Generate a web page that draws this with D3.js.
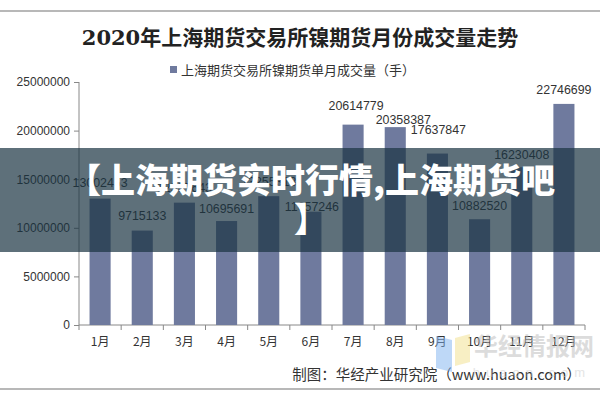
<!DOCTYPE html>
<html>
<head>
<meta charset="utf-8">
<style>
  body{margin:0;background:#fff}
  #chart text{font-family:"Liberation Sans","Noto Sans CJK SC",sans-serif;fill:#333}
</style>
</head>
<body>
<div id="chart"></div>
<script src="https://d3js.org/d3.v7.min.js"></script>
<script>
var months = ['1月','2月','3月','4月','5月','6月','7月','8月','9月','10月','11月','12月'];
var volumes = [13002453, 9715133, 12587643, 10695691, 13255318, 11657246,
               20614779, 20358387, 17637847, 10882520, 16230408, 22746699];
var yTicks = [0, 5000000, 10000000, 15000000, 20000000, 25000000];
var title = '2020年上海期货交易所镍期货月份成交量走势';
var legendLabel = '上海期货交易所镍期货单月成交量（手）';
var source = '制图：华经产业研究院（www.huaon.com）';
var bannerLines = ['【上海期货实时行情,上海期货吧', '】'];

// label nudges (px) so crowded value labels don't collide, as in the source
var labelDx = [0, 0, 0, 0, 0, 1, 3, 8, 1, 0, 0, 0];
var labelDy = [-16, -15, -15, -13, -15, -5, -19, -8, -24, -14, -13, -14];

(function () {
  var width = 600, height = 400;
  var svg = d3.select('#chart').append('svg')
    .attr('width', width).attr('height', height);

  var x = d3.scaleBand().domain(months).range([79, 585]).paddingInner(0.5).paddingOuter(0.25);
  var y = d3.scaleLinear().domain([0, 25000000]).range([325, 82]);

  // frame lines
  svg.append('line').attr('x1', 0).attr('x2', width).attr('y1', 11).attr('y2', 11)
    .style('stroke', '#b8b8b8').style('stroke-width', 2);
  svg.append('line').attr('x1', 0).attr('x2', width).attr('y1', 389).attr('y2', 389)
    .style('stroke', '#b8b8b8').style('stroke-width', 2);

  // title
  svg.append('text').attr('x', 300).attr('y', 45).attr('text-anchor', 'middle')
    .style('font-family', '"DejaVu Serif","Noto Sans CJK SC",serif')
    .style('font-size', '21px').style('font-weight', 'bold').style('fill', '#222')
    .text(title);

  // legend
  svg.append('rect').attr('x', 170).attr('y', 66).attr('width', 7).attr('height', 7)
    .style('fill', '#6f7a9e');
  svg.append('text').attr('x', 181).attr('y', 74.5)
    .style('font-family', '"Noto Sans CJK SC",sans-serif').style('font-size', '13px')
    .text(legendLabel);

  // y axis
  var yAxis = svg.append('g').attr('transform', 'translate(79,0)')
    .call(d3.axisLeft(y).tickValues(yTicks).tickSize(5).tickFormat(d3.format('d')));
  yAxis.selectAll('path,line').style('stroke', '#888');
  yAxis.selectAll('text').style('font-size', '12px').attr('x', -9);
  yAxis.select('.domain').attr('d', 'M0,325V' + y(25000000));

  // x axis
  var xAxis = svg.append('g').attr('transform', 'translate(0,325)')
    .call(d3.axisBottom(x).tickSize(0).tickPadding(12));
  xAxis.select('.domain').style('stroke', '#888').attr('d', 'M79,0H585');
  xAxis.selectAll('text').style('font-size', '12px')
    .style('font-family', '"Noto Sans CJK SC",sans-serif');
  var step = x.step();
  xAxis.selectAll('.sep').data(d3.range(months.length + 1)).enter().append('line')
    .attr('x1', function (i) { return 79 + i * step; })
    .attr('x2', function (i) { return 79 + i * step; })
    .attr('y1', 0).attr('y2', 5).style('stroke', '#888');

  // bars
  svg.append('g').selectAll('rect').data(volumes).enter().append('rect')
    .attr('x', function (d, i) { return x(months[i]); })
    .attr('width', x.bandwidth())
    .attr('y', function (d) { return y(d); })
    .attr('height', function (d) { return y(0) - y(d); })
    .style('fill', '#6f7a9e');

  // value labels
  svg.append('g').selectAll('text').data(volumes).enter().append('text')
    .attr('x', function (d, i) { return x(months[i]) + x.bandwidth() / 2 + labelDx[i]; })
    .attr('y', function (d, i) { return y(d) + labelDy[i] + 4.5; })
    .attr('text-anchor', 'middle').style('font-size', '12.4px')
    .text(function (d) { return d; });

  // source
  svg.append('text').attr('x', 581).attr('y', 380).attr('text-anchor', 'end')
    .style('font-family', '"Noto Sans CJK SC",sans-serif').style('font-size', '14.5px')
    .text(source);

  // watermark
  var wm = svg.append('g').style('opacity', 0.5);
  wm.append('path').attr('d', 'M436,336L452,340L452,372L436,368Z').style('fill', '#7fb2f0');
  wm.append('path').attr('d', 'M455,338L470,334L470,362L455,366Z').style('fill', '#f3e08a');
  wm.append('text').attr('x', 534).attr('y', 355).attr('text-anchor', 'middle')
    .style('font-family', '"Noto Sans CJK SC",sans-serif').style('font-size', '24px')
    .style('font-weight', 'bold').style('fill', '#bbb').text('华经情报网');
  wm.append('text').attr('x', 532).attr('y', 377).attr('text-anchor', 'middle')
    .style('font-size', '13px').style('letter-spacing', '6px').style('fill', '#ccc')
    .text('huaon.com');

  // banner overlay
  svg.append('rect').attr('x', 0).attr('y', 148).attr('width', width).attr('height', 104)
    .style('fill', 'rgb(26,51,65)').style('fill-opacity', 0.7);
  svg.append('g').selectAll('text').data(bannerLines).enter().append('text')
    .attr('x', 311).attr('y', function (d, i) { return 193 + i * 39; })
    .attr('text-anchor', 'middle')
    .style('font-family', '"Noto Sans CJK SC",sans-serif').style('font-size', '34px')
    .style('font-weight', '900').style('fill', '#fff')
    .text(function (d) { return d; });
})();
</script>
</body>
</html>
